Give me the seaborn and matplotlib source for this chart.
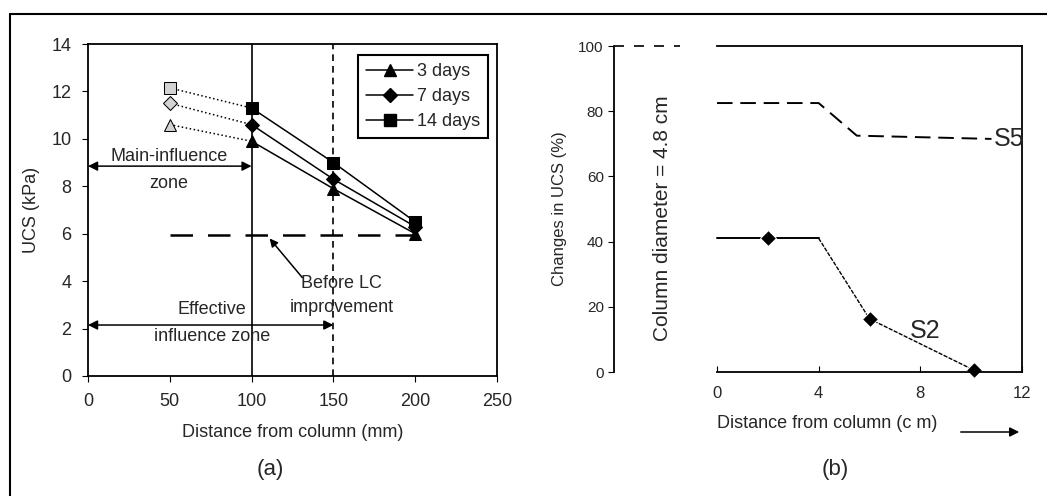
import matplotlib
matplotlib.use("Agg")
import matplotlib.pyplot as plt
import seaborn as sns
from matplotlib.lines import Line2D

# ---- data: panel (a) ----
dist_mm = [100, 150, 200]
ucs_3d = [9.9, 7.9, 6.0]
ucs_7d = [10.6, 8.3, 6.3]
ucs_14d = [11.3, 9.0, 6.5]
# estimated values at 50 mm (dotted extension back to 100 mm)
extra_mm = [50, 100]
ucs_3d_50 = [10.6, 9.9]
ucs_7d_50 = [11.5, 10.6]
ucs_14d_50 = [12.15, 11.3]
before_mm = [50, 204]
before_ucs = [5.95, 5.95]
series_labels = ["3 days", "7 days", "14 days"]
series_markers = ["^", "D", "s"]

# ---- data: panel (b) ----
s5_cm = [0, 4, 5.5, 10.8]
s5_pct = [82.5, 82.5, 72.5, 71.5]
s2_cm = [0, 2, 4, 6, 10.1]
s2_pct = [41, 41, 41, 16.3, 0.6]

sns.set_style("ticks")
plt.rcParams['font.family'] = ['Liberation Sans', 'DejaVu Sans']

fig = plt.figure(figsize=(10.47, 4.96), dpi=100)
W, H = 1047, 496
ax1 = fig.add_axes([88 / W, 1 - 376 / H, 409 / W, 332 / H])
ax2 = fig.add_axes([717 / W, 1 - 372 / H, 305 / W, 326 / H])

# ================= panel (a) =================
series = [ucs_3d, ucs_7d, ucs_14d]
extras = [ucs_3d_50, ucs_7d_50, ucs_14d_50]
for vals, ext, mk in zip(series, extras, series_markers):
    ms = 7 if mk == "D" else 8
    sns.lineplot(x=dist_mm, y=vals, ax=ax1, color="black", marker=mk,
                 markersize=ms, linewidth=1.1, markeredgecolor="black")
    sns.lineplot(x=extra_mm, y=ext, ax=ax1, color="black", linestyle=":",
                 linewidth=1.1, marker=mk, markersize=ms, markevery=[0],
                 markerfacecolor="lightgray", markeredgecolor="black")

ax1.plot(before_mm, before_ucs, color="black", lw=1.8, dashes=(9, 6))
ax1.axvline(100, color="black", lw=1.2)
ax1.axvline(150, color="black", lw=1.2, dashes=(4, 3))

fs = 13
ax1.annotate("", xy=(0, 8.85), xytext=(100, 8.85),
             arrowprops=dict(arrowstyle="<|-|>", color="black", lw=1.1,
                             shrinkA=0, shrinkB=0, mutation_scale=14))
ax1.text(49.5, 9.25, "Main-influence", ha="center", va="center", fontsize=fs)
ax1.text(49.5, 8.1, "zone", ha="center", va="center", fontsize=fs)

ax1.annotate("", xy=(0, 2.15), xytext=(150, 2.15),
             arrowprops=dict(arrowstyle="<|-|>", color="black", lw=1.1,
                             shrinkA=0, shrinkB=0, mutation_scale=14))
ax1.text(76, 2.8, "Effective", ha="center", va="center", fontsize=fs)
ax1.text(76, 1.65, "influence zone", ha="center", va="center", fontsize=fs)

ax1.annotate("", xy=(111, 5.8), xytext=(131, 4.15),
             arrowprops=dict(arrowstyle="-|>", color="black", lw=1.1,
                             shrinkA=0, shrinkB=0, mutation_scale=12))
ax1.text(155, 3.9, "Before LC", ha="center", va="center", fontsize=fs)
ax1.text(155, 2.9, "improvement", ha="center", va="center", fontsize=fs)

ax1.set_xlim(0, 250)
ax1.set_ylim(0, 14)
ax1.set_xticks(range(0, 251, 50))
ax1.set_yticks(range(0, 15, 2))
ax1.tick_params(labelsize=13, length=4, color="black", pad=8)
for s in ax1.spines.values():
    s.set_color("black")
    s.set_linewidth(1.3)
ax1.set_xlabel("Distance from column (mm)", fontsize=fs, labelpad=10)
ax1.set_ylabel("UCS (kPa)", fontsize=fs, labelpad=8)

handles = [Line2D([0], [0], color="black", lw=1.1, marker=m,
                  markersize=7 if m == "D" else 8)
           for m in series_markers]
leg = ax1.legend(handles, series_labels, loc="upper right",
                 bbox_to_anchor=(0.978, 0.967), fontsize=13, frameon=True,
                 fancybox=False, edgecolor="black", framealpha=1,
                 handlelength=2.6, handletextpad=0.2, borderpad=0.45,
                 labelspacing=0.45, borderaxespad=0)
leg.get_frame().set_linewidth(1.5)

fig.text(270 / W, 1 - 470 / H, "(a)", ha="center", va="center", fontsize=16)

# ================= panel (b) =================
sns.lineplot(x=s5_cm, y=s5_pct, ax=ax2, color="black", lw=1.4,
             dashes=(8, 4), clip_on=False)
sns.lineplot(x=s2_cm[:3], y=s2_pct[:3], ax=ax2, color="black", lw=1.4,
             marker="D", markersize=8, markevery=[1], clip_on=False)
sns.lineplot(x=s2_cm[2:], y=s2_pct[2:], ax=ax2, color="black", lw=1.0,
             linestyle=(0, (3, 1)), marker="D", markersize=8,
             markevery=[1, 2], clip_on=False)

ax2.text(10.9, 71.5, "S5", ha="left", va="center", fontsize=18)
ax2.text(7.6, 12.5, "S2", ha="left", va="center", fontsize=18)

ax2.set_xlim(0, 12)
ax2.set_ylim(0, 100)
ax2.set_xticks([0, 4, 8, 12])
ax2.set_yticks(range(0, 101, 20))
ax2.spines["left"].set_position(("outward", 74))
for s in ax2.spines.values():
    s.set_color("black")
    s.set_linewidth(1.3)
ax2.tick_params(axis="y", labelsize=11, length=4, color="black")
ax2.tick_params(axis="x", labelsize=12, length=4, color="black",
                direction="in", pad=10)
ax2.set_xlabel("Distance from column (c m)", fontsize=fs, labelpad=10,
               x=0.36)
ax2.set_ylabel("Changes in UCS (%)", fontsize=12, labelpad=8)
# dashed continuation of the top frame over the gap
ax2.plot([-0.338, -0.121], [1, 1], transform=ax2.transAxes, color="black",
         lw=1.2, dashes=(6, 6), clip_on=False)
fig.text(663 / W, 1 - 218 / H, "Column diameter = 4.8 cm", rotation=90,
         ha="center", va="center", fontsize=15)

fig.add_artist(matplotlib.patches.FancyArrowPatch(
    (958 / W, 1 - 432 / H), (1022 / W, 1 - 432 / H),
    transform=fig.transFigure, arrowstyle="-|>", mutation_scale=14,
    color="black", lw=1.1))
fig.text(835 / W, 1 - 470 / H, "(b)", ha="center", va="center", fontsize=16)

# outer frame of the scanned figure
fig.add_artist(Line2D([10 / W, 1], [1 - 14 / H, 1 - 14 / H],
                      transform=fig.transFigure, color="black", lw=1.5))
fig.add_artist(Line2D([10 / W, 10 / W], [1 - 14 / H, 0],
                      transform=fig.transFigure, color="black", lw=1.5))

fig.savefig("out.png", dpi=100)
